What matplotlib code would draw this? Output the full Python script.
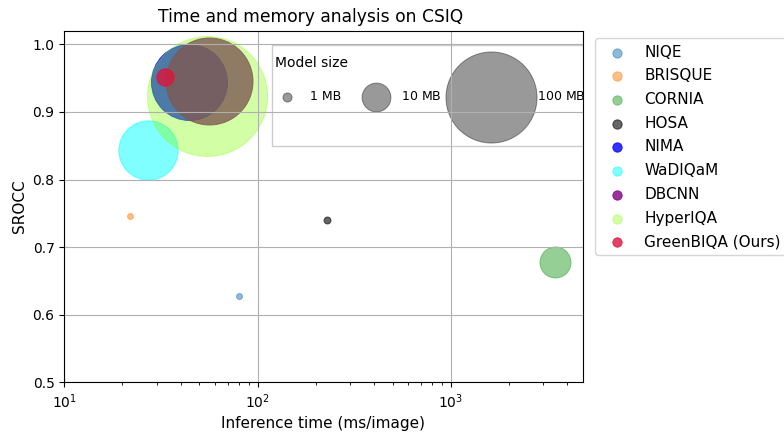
import numpy as np
import matplotlib.pyplot as plt
from matplotlib.patches import Rectangle
from matplotlib.legend_handler import HandlerPathCollection

# Datos
models = ['NIQE', 'BRISQUE', 'CORNIA', 'HOSA', 'NIMA', 'WaDIQaM', 'DBCNN', 'HyperIQA', 'GreenBIQA (Ours)']
time_ms = [80, 22, 3470, 228, 44, 27, 56, 55, 33]
srocc = [0.627, 0.746, 0.678, 0.740, 0.945, 0.844, 0.946, 0.923, 0.952]
size_mb = [0.43, 0.43, 11.6, 0.59, 69.6, 42.5, 91.3, 173.6, 3.65]
colors = ['tab:blue', 'tab:orange', 'tab:green', 'k', 'blue', 'cyan', 'purple', 'chartreuse', 'crimson']
alphas = [0.5, 0.5, 0.5, 0.6, 0.8, 0.5, 0.8, 0.35, 0.8]

ref_mb = [1, 10, 100]
ref_labels = ['1 MB', '10 MB', '100 MB']
ref_lead = [0.0, 0.26, 3.15]   # espacio antes de cada etiqueta (mathtext)
ref_shift = [0.0, 0.0, 2.29]   # desplazamiento del marcador (xpad)

area = 43  # pt^2 por MB

fig = plt.figure(figsize=(7.84, 4.34), dpi=100)
ax = fig.add_axes([0.082, 0.119, 0.661, 0.810])

handles = []
for t, s, mb, c, a, name in zip(time_ms, srocc, size_mb, colors, alphas, models):
    handles.append(ax.scatter(t, s, s=mb * area, c=c, alpha=a, linewidths=0.7, label=name))

ax.set_xscale('log')
ax.set_xlim(10, 4800)
ax.set_ylim(0.5, 1.02)
ax.grid(True)
ax.set_xlabel('Inference time (ms/image)', fontsize=11)
ax.set_ylabel('SROCC', fontsize=11)
ax.set_title('Time and memory analysis on CSIQ', x=0.476, fontsize=12.3)

leg = ax.legend(handles=handles, loc='upper left', bbox_to_anchor=(1.01, 1.0), fontsize=11,
                labelspacing=0.57)
for h in leg.legend_handles:
    h.set_sizes([45])
ax.add_artist(leg)

# Leyenda de tamaños
size_handles = [ax.scatter([], [], s=mb * area, c='k', alpha=0.4, linewidths=0.7) for mb in ref_mb]
size_labels = []
for lab, pre in zip(ref_labels, ref_lead):
    size_labels.append(r'$\hspace{%g}$' % pre + lab if pre else lab)
hmap = {h: HandlerPathCollection(xpad=x) for h, x in zip(size_handles, ref_shift)}
leg2 = ax.legend(size_handles, size_labels, ncol=3, title='Model size', fontsize=9, title_fontsize=10,
                 loc='upper left', bbox_to_anchor=(0.406, 0.9275), borderpad=0, borderaxespad=0,
                 labelspacing=1.6, columnspacing=1.77, handletextpad=0.8, frameon=False,
                 alignment='left', scatterpoints=1, handler_map=hmap)
leg2.set_zorder(1)
ax.add_patch(Rectangle((0.4007, 0.6721), 0.65, 0.2872, transform=ax.transAxes, fill=False,
                       edgecolor='#cccccc', lw=1))

plt.savefig('out.png', dpi=100)
